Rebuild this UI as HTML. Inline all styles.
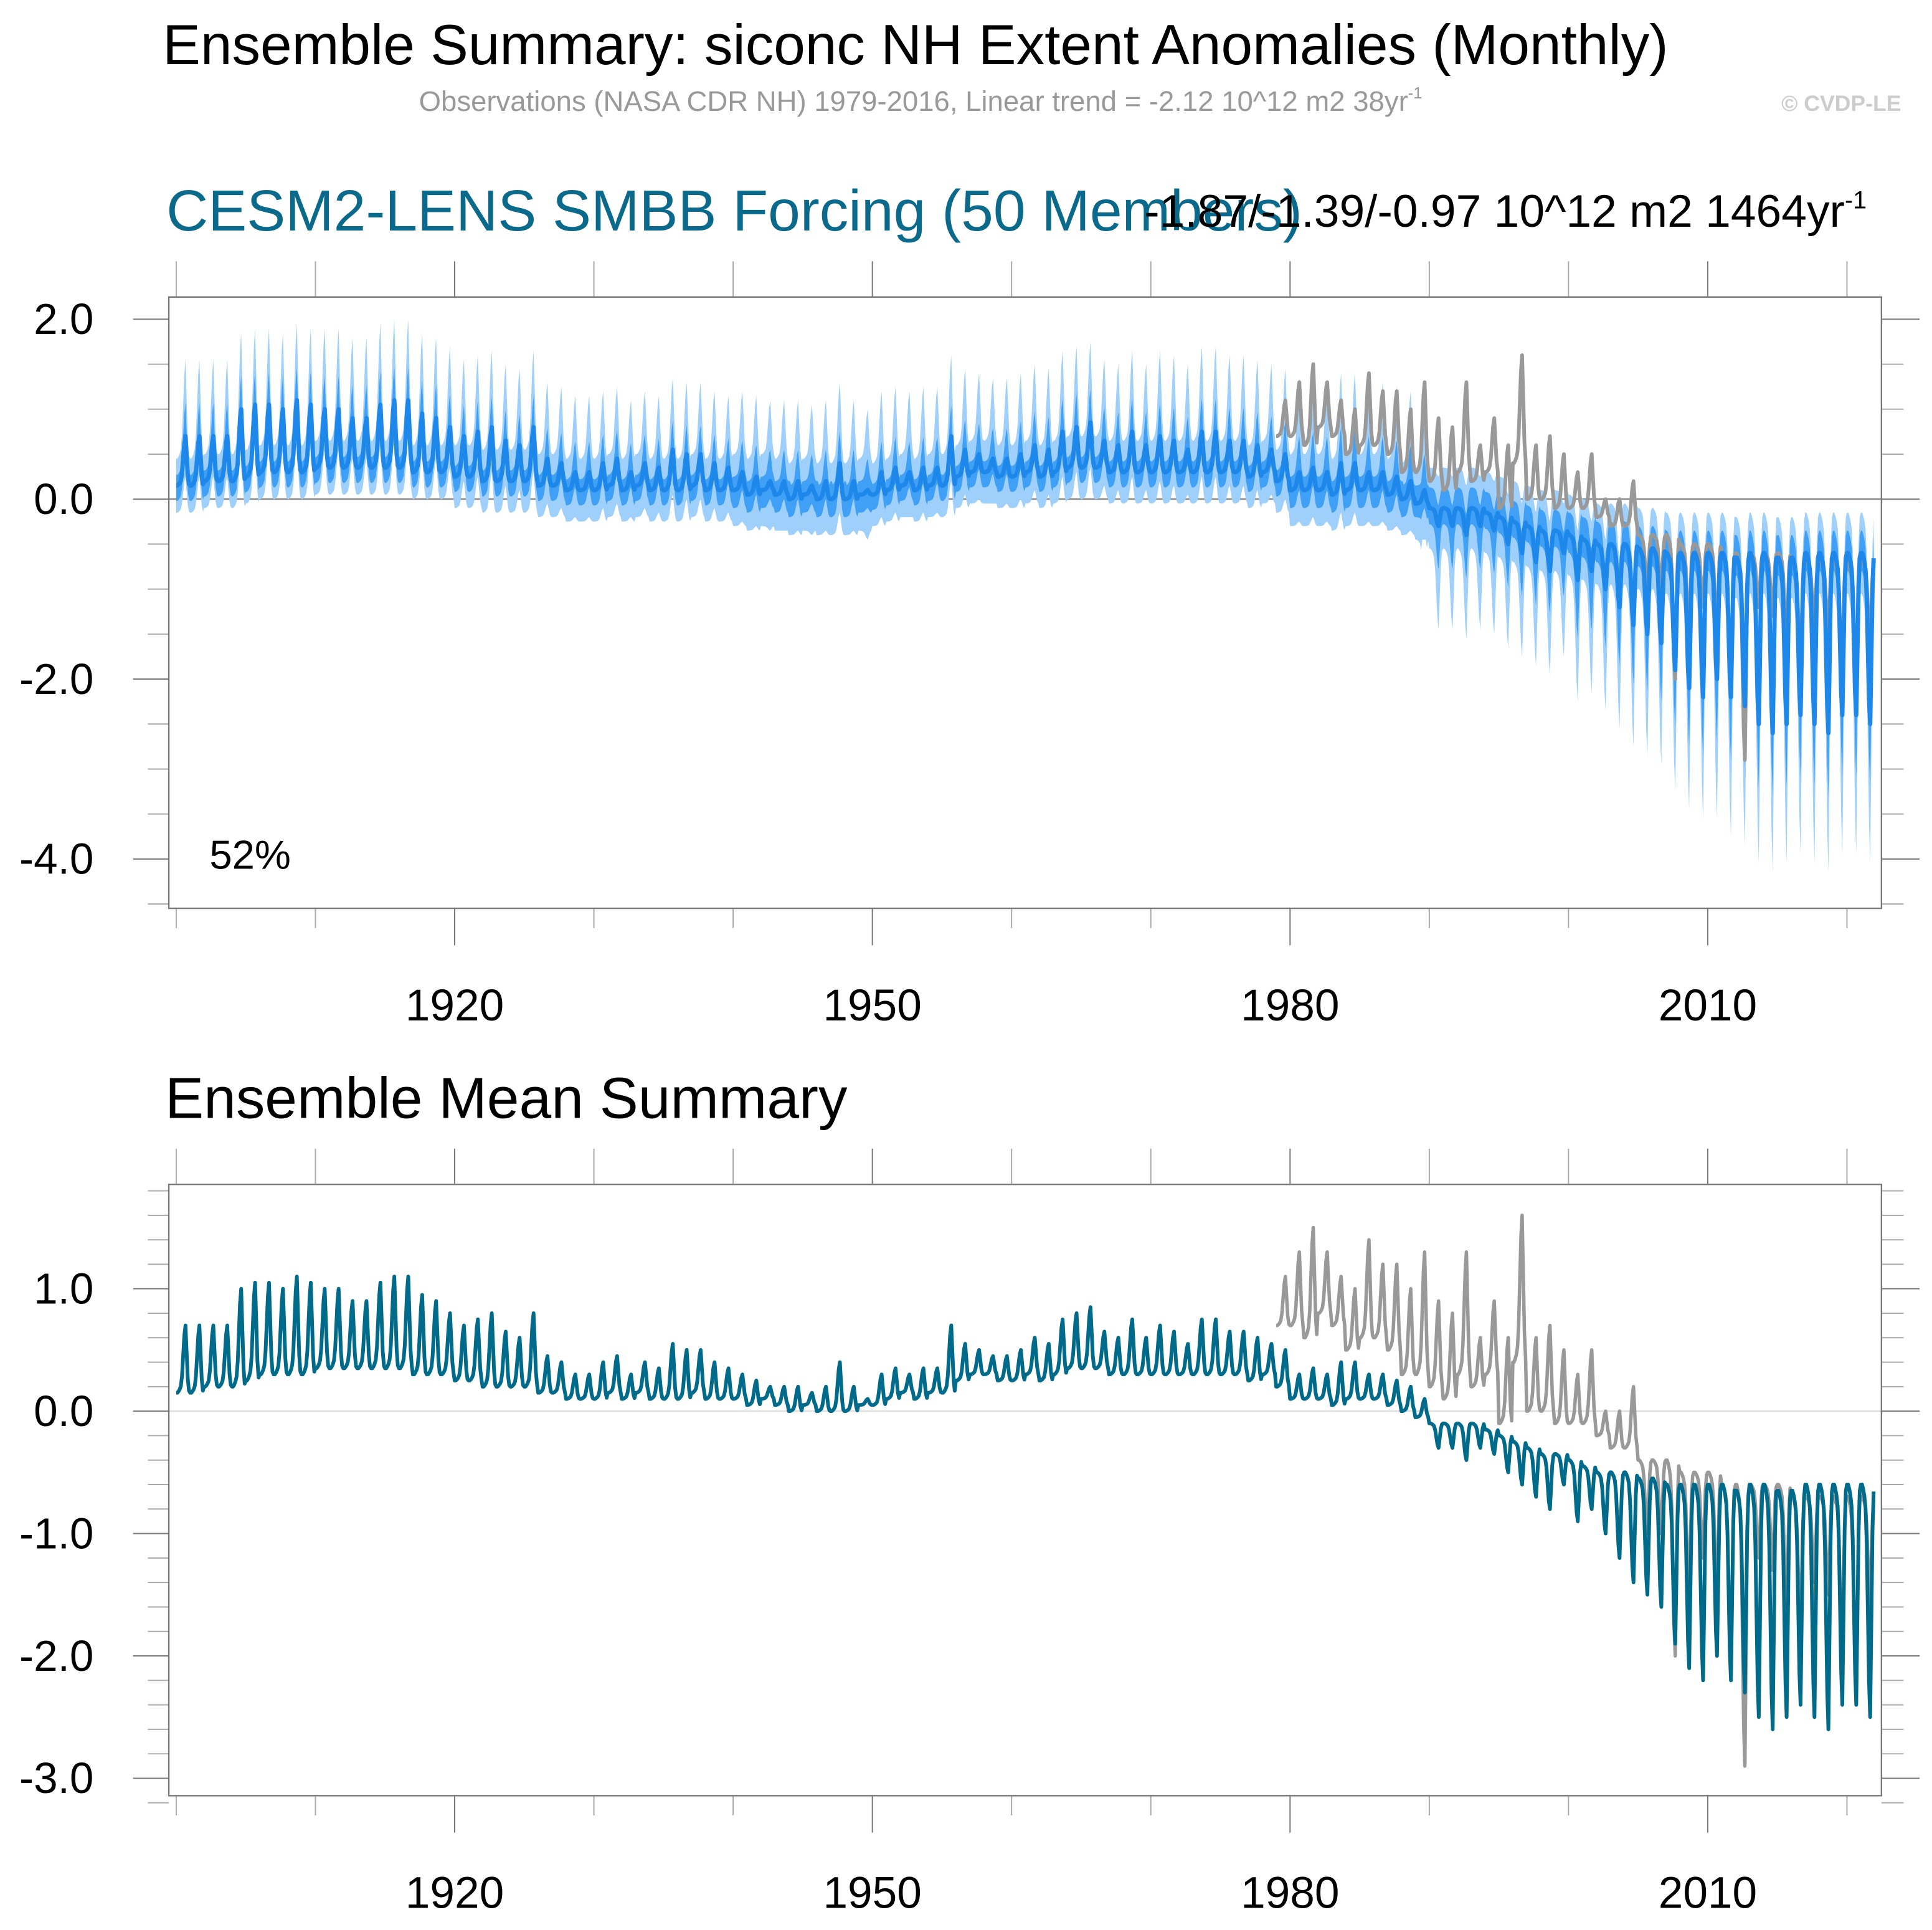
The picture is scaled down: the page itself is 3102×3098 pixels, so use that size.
<!DOCTYPE html>
<html><head><meta charset="utf-8"><style>
html,body{margin:0;padding:0;background:#fff}
svg{display:block}
text{font-family:"Liberation Sans",sans-serif}
</style></head><body>
<svg id="chart" width="3102" height="3098" viewBox="0 0 1568 1566" xmlns="http://www.w3.org/2000/svg">
<defs><clipPath id="clipTop"><rect x="137" y="241" width="1390" height="496"/></clipPath><clipPath id="clipBot"><rect x="137" y="961" width="1390" height="496"/></clipPath></defs>
<text x="132" y="52" font-size="46" fill="#000">Ensemble Summary: siconc NH Extent Anomalies (Monthly)</text>
<text x="340" y="90" font-size="23" fill="#999">Observations (NASA CDR NH) 1979-2016, Linear trend = -2.12 10^12 m2 38yr<tspan font-size="13" dy="-10">-1</tspan></text>
<text x="1543" y="90" font-size="18" font-weight="bold" fill="#ccc" text-anchor="end">© CVDP-LE</text>
<text x="135" y="187" font-size="47" fill="#0b6a8b">CESM2-LENS SMBB Forcing (50 Members)</text>
<text x="1515" y="184" font-size="37" fill="#000" text-anchor="end">-1.87/-1.39/-0.97 10^12 m2 1464yr<tspan font-size="20" dy="-15">-1</tspan></text>
<text x="170" y="705" font-size="33" fill="#000">52%</text>
<text x="134" y="907" font-size="47" fill="#000">Ensemble Mean Summary</text>
<g id="top"></g>
<g id="bot"></g>
</svg>
<script>
const years = [];
for (let y = 1900; y <= 2021; y++) years.push(y);
const seasonShape = [0,0,0.02,0.05,0.1,0.25,0.55,0.85,1,0.6,0.2,0.03];
const meanBase = [0.15,0.15,0.2,0.2,0.2,0.25,0.3,0.3,0.3,0.3,
0.35,0.35,0.35,0.35,0.35,0.35,0.35,0.3,0.3,0.3,
0.25,0.25,0.2,0.2,0.2,0.2,0.15,0.15,0.1,0.1,
0.1,0.15,0.1,0.15,0.1,0.1,0.1,0.15,0.1,0.1,
0.1,0.05,0.1,0.05,0.0,0.05,0.0,0.0,0.0,0.05,
0.05,0.1,0.15,0.1,0.15,0.15,0.25,0.3,0.3,0.25,
0.25,0.3,0.25,0.3,0.35,0.35,0.35,0.3,0.3,0.3,
0.3,0.3,0.3,0.3,0.3,0.3,0.3,0.25,0.3,0.2,
0.1,0.1,0.1,0.05,0.1,0.1,0.1,0.05,0.0,-0.05,
-0.1,-0.1,-0.1,-0.1,-0.15,-0.2,-0.25,-0.3,-0.35,-0.35,
-0.4,-0.45,-0.5,-0.5,-0.5,-0.55,-0.55,-0.6,-0.6,-0.6,
-0.6,-0.6,-0.65,-0.6,-0.6,-0.65,-0.65,-0.6,-0.6,-0.6,
-0.6,-0.6];
const meanSpike = [0.7,0.7,0.7,0.7,1.0,1.05,1.05,1.0,1.1,1.05,
1.0,1.0,0.9,0.9,1.05,1.1,1.1,0.95,0.9,0.8,
0.7,0.75,0.8,0.65,0.6,0.8,0.45,0.4,0.3,0.3,
0.4,0.45,0.3,0.4,0.35,0.55,0.5,0.5,0.4,0.35,
0.3,0.25,0.2,0.2,0.2,0.15,0.2,0.4,0.2,0.1,
0.3,0.35,0.3,0.35,0.35,0.7,0.55,0.5,0.45,0.45,
0.5,0.6,0.55,0.75,0.8,0.85,0.65,0.6,0.75,0.6,
0.7,0.65,0.55,0.75,0.75,0.65,0.65,0.6,0.55,0.5,
0.3,0.35,0.3,0.4,0.4,0.3,0.3,0.25,0.2,0.1,
-0.3,-0.3,-0.4,-0.3,-0.35,-0.5,-0.6,-0.7,-0.8,-0.6,
-0.9,-0.8,-1.0,-1.2,-1.4,-1.5,-1.6,-1.9,-2.1,-2.2,
-2.0,-2.2,-2.3,-2.5,-2.6,-2.5,-2.4,-2.5,-2.6,-2.4,
-2.4,-2.5];
// spread by decade (1900s..2020s)
const outerBaseSpread = [0.3,0.3,0.35,0.35,0.4,0.35,0.35,0.35,0.4,0.45,0.45,0.45,0.45];
const outerSpikeSpread = [0.55,0.6,0.5,0.45,0.5,0.55,0.55,0.6,0.6,0.7,0.9,1.1,1.1];
const innerBaseSpread = [0.12,0.12,0.12,0.12,0.15,0.12,0.12,0.12,0.15,0.18,0.2,0.2,0.2];
const innerSpikeSpread = [0.25,0.25,0.22,0.2,0.2,0.22,0.25,0.25,0.25,0.3,0.45,0.5,0.5];
const obsYears = [];
for (let y = 1979; y <= 2021; y++) obsYears.push(y);
const obsBase = [0.7,0.7,0.6,0.8,0.7,0.5,0.6,0.6,0.5,0.3,0.3,0.2,0.1,0.3,0.2,0.3,-0.1,0.4,0.0,0.0,-0.1,-0.1,-0.1,-0.2,-0.3,-0.3,-0.4,-0.4,-0.4,-0.5,-0.5,-0.5,-0.6,-0.6,-0.6,-0.6,-0.6,-0.7,-0.7,-0.7,-0.7,-0.7,-0.7];
const obsSpike = [1.1,1.3,1.5,1.3,1.1,1.0,1.4,1.2,1.2,1.0,1.3,0.9,0.8,1.3,0.6,0.9,0.6,1.6,0.6,0.7,0.5,0.3,0.5,0.0,0.0,0.2,-1.0,-1.0,-2.0,-1.5,-1.2,-1.5,-2.0,-2.9,-1.2,-1.3,-1.6,-1.8,-1.4,-1.5,-2.0,-2.4,-1.6];
const xTickYears = [1920,1950,1980,2010];
const topYTicks = [2.0,0.0,-2.0,-4.0];
const botYTicks = [1.0,0.0,-1.0,-2.0,-3.0];

const NS='http://www.w3.org/2000/svg';
function mk(p,tag,attrs){const e=document.createElementNS(NS,tag);for(const k in attrs)e.setAttribute(k,attrs[k]);p.appendChild(e);return e;}
const X0=143, PX_PER_YR=11.3;
function xs(t){return X0+(t-1900)*PX_PER_YR;}
function monthly(base,spike,yrs){const out=[];for(let i=0;i<yrs.length;i++)for(let m=0;m<12;m++)out.push({t:yrs[i]+m/12,v:base[i]+(spike[i]-base[i])*seasonShape[m],s:seasonShape[m],d:Math.min(12,Math.floor((yrs[i]-1900)/10))});return out;}
const meanM = monthly(meanBase,meanSpike,years);
const obsM = monthly(obsBase,obsSpike,obsYears);

function panel(g,top,bottom,yOf,yMin,yMax,major,minorStep,zeroColor){
  const L=137,R=1527;
  mk(g,'line',{x1:L,x2:R,y1:yOf(0),y2:yOf(0),stroke:zeroColor,'stroke-width':1.2});
  for(let v=yMin;v<=yMax+1e-9;v+=minorStep){const isMaj=major.some(a=>Math.abs(a-v)<1e-6);const y=yOf(v);
    const t=mk(g,'line',{x1:isMaj?108:120,x2:L,y1:y,y2:y,stroke:isMaj?'#777':'#aaa','stroke-width':1});
    
    const t2=mk(g,'line',{x1:R,x2:isMaj?1558:1545,y1:y,y2:y,stroke:isMaj?'#777':'#aaa','stroke-width':1});
    }
  major.forEach(v=>{const tx=mk(g,'text',{x:76,y:yOf(v)+12,'font-size':35,'text-anchor':'end',fill:'#000'});tx.textContent=v.toFixed(1);
    });
  for(let yr=1900;yr<=2020;yr+=10){const x=xs(yr);const isMaj=xTickYears.includes(yr);
    const a=mk(g,'line',{x1:x,x2:x,y1:top-29,y2:top,stroke:isMaj?'#777':'#aaa','stroke-width':1});
    
    const b=mk(g,'line',{x1:x,x2:x,y1:bottom,y2:bottom+(isMaj?30:16),stroke:isMaj?'#777':'#aaa','stroke-width':1});
    }
  xTickYears.forEach(yr=>{const tx=mk(g,'text',{x:xs(yr),y:bottom+91,'font-size':36,'text-anchor':'middle',fill:'#000'});tx.textContent=yr;
    });
}
function pathOf(arr,yOf,f){return arr.map((p,i)=>(i?'L':'M')+xs(p.t).toFixed(2)+' '+yOf(f(p)).toFixed(2)).join('');}
function bandPath(arr,yOf,fu,fl){let d=pathOf(arr,yOf,fu);for(let i=arr.length-1;i>=0;i--){d+='L'+xs(arr[i].t).toFixed(2)+' '+yOf(fl(arr[i])).toFixed(2);}return d+'Z';}

const topG=document.getElementById('top');
const yT=v=>405-v*73;
panel(topG,241,737,yT,-4.5,2.0,topYTicks,0.5,'#888');
const clipT=mk(topG,'g',{'clip-path':'url(#clipTop)'});
const ob=mk(clipT,'path',{d:bandPath(meanM,yT,p=>p.v+outerBaseSpread[p.d]+(p.v>0?outerSpikeSpread[p.d]*p.s:0.1*p.s),p=>p.v-outerBaseSpread[p.d]-(p.v<0?outerSpikeSpread[p.d]*p.s:0.15*p.s)),fill:'#9fd0fc'});

const ib=mk(clipT,'path',{d:bandPath(meanM,yT,p=>p.v+innerBaseSpread[p.d]+(p.v>0?innerSpikeSpread[p.d]*p.s:0.05),p=>p.v-innerBaseSpread[p.d]-(p.v<0?innerSpikeSpread[p.d]*p.s:0.05)),fill:'#3fa0f6'});

const to=mk(clipT,'path',{d:pathOf(obsM,yT,p=>p.v),fill:'none',stroke:'#999','stroke-width':3,'stroke-linejoin':'round'});

const tm=mk(clipT,'path',{d:pathOf(meanM,yT,p=>p.v),fill:'none',stroke:'#1d87ea','stroke-width':3.5,'stroke-linejoin':'round'});

const tf=mk(topG,'rect',{x:137,y:241,width:1390,height:496,fill:'none',stroke:'#777','stroke-width':1.2});


const botG=document.getElementById('bot');
const yB=v=>1145-v*99.3;
panel(botG,961,1457,yB,-3.2,1.8,botYTicks,0.2,'#ddd');
const clipB=mk(botG,'g',{'clip-path':'url(#clipBot)'});
const bo=mk(clipB,'path',{d:pathOf(obsM,yB,p=>p.v),fill:'none',stroke:'#999','stroke-width':2.8,'stroke-linejoin':'round'});

const bm=mk(clipB,'path',{d:pathOf(meanM,yB,p=>p.v),fill:'none',stroke:'#006a8a','stroke-width':3,'stroke-linejoin':'round'});

const bf=mk(botG,'rect',{x:137,y:961,width:1390,height:496,fill:'none',stroke:'#777','stroke-width':1.2});

</script>
</body></html>
